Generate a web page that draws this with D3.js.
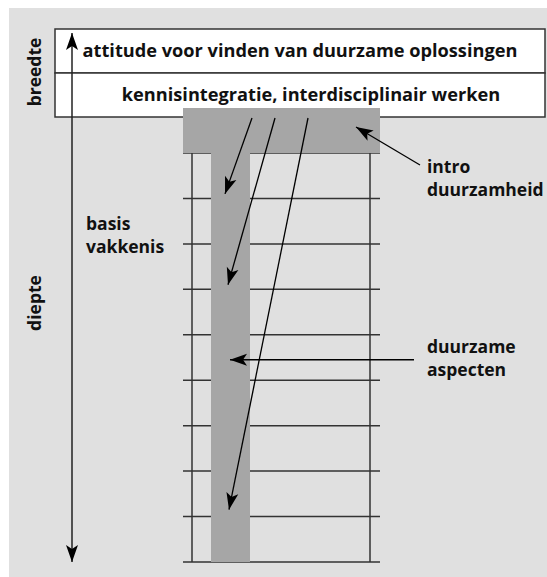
<!DOCTYPE html>
<html>
<head>
<meta charset="utf-8">
<script src="https://cdn.jsdelivr.net/npm/d3@7"></script>
<style>
body { margin: 0; background: #fff; }
text { font-family: "Open Sans", sans-serif; font-weight: bold; fill: #111; }
</style>
</head>
<body>
<svg id="chart"></svg>
<script>
var screen = { width: 547, height: 577 };

// box rows at the top (breedte)
var boxLabels = ["attitude voor vinden van duurzame oplossingen",
                 "kennisintegratie, interdisciplinair werken"];
// depth levels of the grid (diepte), 0 = under the intro bar
var levels = [0, 1, 2, 3, 4, 5, 6, 7, 8, 9];
// arrows from the intro bar down into the basis column: start x, tip x, tip level
var arrowStartX = [252, 275, 308];
var arrowTipX = [225, 228, 229];
var arrowTipLevel = [0.9, 2.9, 7.85];
// side labels
var sideLabels = [
  { lines: ["basis", "vakkenis"], x: 86, level: 1.7 },
  { lines: ["intro", "duurzamheid"], x: 427, level: 0.45 },
  { lines: ["duurzame", "aspecten"], x: 427, level: 4.4 }
];

var svg = d3.select("#chart")
  .attr("width", screen.width)
  .attr("height", screen.height);

var yScale = d3.scaleLinear().domain([0, 9]).range([153, 562]);
var boxScale = d3.scaleBand().domain(d3.range(boxLabels.length)).range([29, 117]);

var defs = svg.append("defs");
defs.append("marker")
  .attr("id", "head")
  .attr("viewBox", "-18 -7 20 14")
  .attr("refX", 0).attr("refY", 0)
  .attr("markerWidth", 20).attr("markerHeight", 14)
  .attr("markerUnits", "userSpaceOnUse")
  .attr("orient", "auto-start-reverse")
  .append("path")
  .attr("d", "M0,0 L-17,-6 L-13,0 L-17,6 Z")
  .attr("fill", "#000");

// background
svg.append("rect")
  .attr("x", 9).attr("y", 8)
  .attr("width", screen.width - 9).attr("height", screen.height - 8)
  .attr("fill", "#e0e0e0");

// top boxes
svg.selectAll("rect.box")
  .data(boxLabels)
  .enter()
  .append("rect")
  .attr("class", "box")
  .attr("x", 55).attr("width", 490)
  .attr("y", function(d, i) { return boxScale(i); })
  .attr("height", boxScale.bandwidth())
  .attr("fill", "#fff")
  .attr("stroke", "#333")
  .attr("stroke-width", 1.5);

svg.selectAll("text.box")
  .data(boxLabels)
  .enter()
  .append("text")
  .attr("class", "box")
  .attr("x", function(d, i) { return i == 0 ? 300 : 311; })
  .attr("y", function(d, i) { return boxScale(i) + boxScale.bandwidth() / 2 + 6; })
  .attr("text-anchor", "middle")
  .attr("font-size", "18.2px")
  .text(function(d) { return d; });

// grid
var grid = svg.append("g").attr("stroke", "#333").attr("stroke-width", 1.5);
grid.selectAll("line.h")
  .data(levels)
  .enter()
  .append("line")
  .attr("x1", 183).attr("x2", 380)
  .attr("y1", function(d) { return yScale(d); })
  .attr("y2", function(d) { return yScale(d); });
grid.selectAll("line.v")
  .data([192, 370])
  .enter()
  .append("line")
  .attr("x1", function(d) { return d; })
  .attr("x2", function(d) { return d; })
  .attr("y1", yScale(0)).attr("y2", yScale(9));

// gray T (intro bar + basis column), on top of the grid
svg.append("rect")
  .attr("x", 183).attr("width", 197)
  .attr("y", 108).attr("height", yScale(0) - 108)
  .attr("fill", "#a6a6a6");
svg.append("rect")
  .attr("x", 211).attr("width", 39)
  .attr("y", yScale(0) - 1).attr("height", yScale(9) - yScale(0) + 1)
  .attr("fill", "#a6a6a6");

// vertical axis arrow (breedte / diepte)
svg.append("line")
  .attr("x1", 72).attr("x2", 72)
  .attr("y1", 33).attr("y2", 562)
  .attr("stroke", "#222").attr("stroke-width", 1.5)
  .attr("marker-start", "url(#head)")
  .attr("marker-end", "url(#head)");

// arrows into the column
svg.selectAll("line.arrow")
  .data(arrowStartX)
  .enter()
  .append("line")
  .attr("x1", function(d) { return d; })
  .attr("y1", 118)
  .attr("x2", function(d, i) { return arrowTipX[i]; })
  .attr("y2", function(d, i) { return yScale(arrowTipLevel[i]); })
  .attr("stroke", "#000").attr("stroke-width", 1.3)
  .attr("marker-end", "url(#head)");

// pointer arrows for labels
svg.append("line")
  .attr("x1", 420).attr("y1", 165)
  .attr("x2", 356).attr("y2", 127)
  .attr("stroke", "#000").attr("stroke-width", 1.3)
  .attr("marker-end", "url(#head)");
svg.append("line")
  .attr("x1", 414).attr("y1", yScale(4.55))
  .attr("x2", 230).attr("y2", yScale(4.55))
  .attr("stroke", "#000").attr("stroke-width", 1.3)
  .attr("marker-end", "url(#head)");

// side labels
sideLabels.forEach(function(lab) {
  var t = svg.append("text")
    .attr("x", lab.x)
    .attr("y", yScale(lab.level))
    .attr("font-size", "17.5px");
  t.selectAll("tspan")
    .data(lab.lines)
    .enter()
    .append("tspan")
    .attr("x", lab.x)
    .attr("dy", function(d, i) { return i == 0 ? 0 : 23; })
    .text(function(d) { return d; });
});

// rotated axis labels
svg.append("text")
  .attr("transform", "translate(41,72) rotate(-90)")
  .attr("text-anchor", "middle")
  .attr("font-size", "17.5px")
  .text("breedte");
svg.append("text")
  .attr("transform", "translate(41,303) rotate(-90)")
  .attr("text-anchor", "middle")
  .attr("font-size", "17.5px")
  .text("diepte");
</script>
</body>
</html>
